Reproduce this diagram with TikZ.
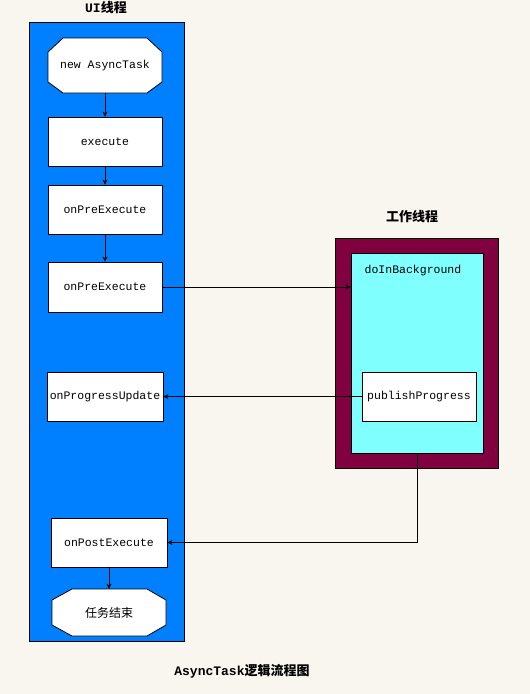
\documentclass[tikz,border=0pt]{standalone}
\usepackage{fontspec}
\setmonofont{Liberation Mono}
\newfontfamily\cjk{Noto Sans CJK SC}
\usetikzlibrary{arrows.meta}
\definecolor{bgc}{HTML}{F9F6EF}
\definecolor{uiblue}{HTML}{0080FF}
\definecolor{wkmaroon}{HTML}{800040}
\definecolor{wkcyan}{HTML}{80FFFF}
\begin{document}
\begin{tikzpicture}[x=1pt,y=-1pt,
  box/.style={draw=black, fill=white, line width=0.8pt, inner sep=0pt,
    font=\ttfamily\fontsize{11.5}{13}\selectfont},
  plain/.style={inner sep=0pt, font=\ttfamily\fontsize{11.5}{13}\selectfont},
  arr/.style={-{Stealth[length=5pt,width=5pt]}, line width=0.8pt},
  ttl/.style={inner sep=0pt, font=\fontsize{13}{15}\selectfont\bfseries}]
\fill[bgc] (0,0) rectangle (530,694);
\useasboundingbox (0,0) rectangle (530,694);
% panels
\draw[fill=uiblue, line width=0.8pt] (29,22) rectangle (184,641);
\draw[fill=wkmaroon, line width=0.8pt] (335,238) rectangle (498,468);
\node[draw=black, fill=wkcyan, line width=0.8pt, minimum width=132pt, minimum height=200pt, inner sep=0pt] (inner) at (417,353) {};
% titles
\node[ttl] (t1) at (106,8) {\ttfamily UI\cjk 线程};
\node[ttl] (t2) at (412,217) {\cjk 工作线程};
\node[ttl] (t3) at (242,671) {\ttfamily AsyncTask\cjk 逻辑流程图};
% octagon 1
\node[plain, minimum width=114pt, minimum height=55pt] (n0) at (105,65.5) {new AsyncTask};
\draw[fill=white, line width=0.8pt]
  (63,38) -- (147,38) -- (162,52) -- (162,82) -- (147,93) -- (63,93) -- (48,82) -- (48,52) -- cycle;
\node[plain] at (n0) {new AsyncTask};
% boxes
\node[box, minimum width=114pt, minimum height=49pt] (ex) at (105,141.5) {execute};
\node[box, minimum width=114pt, minimum height=49pt] (p1) at (105,209.5) {onPreExecute};
\node[box, minimum width=114pt, minimum height=50pt] (p2) at (105,287) {onPreExecute};
\node[box, minimum width=116pt, minimum height=49pt] (opu) at (105,396.5) {onProgressUpdate};
\node[box, minimum width=116pt, minimum height=49pt] (ope) at (109,542.5) {onPostExecute};
\node[box, minimum width=114pt, minimum height=49pt] (pp) at (419,396.5) {publishProgress};
\node[plain] (dib) at (413,271) {doInBackground};
% octagon 2
\node[plain, minimum width=114pt, minimum height=47pt] (end) at (109,612.5) {};
\draw[fill=white, line width=0.8pt]
  (72,589) -- (147,589) -- (166,600) -- (166,625) -- (147,636) -- (72,636) -- (52,625) -- (52,600) -- cycle;
\node[inner sep=0pt, font=\cjk\fontsize{12}{14}\selectfont] at (end) {任务结束};
% connectors
\draw[arr] (n0.south) -- (ex.north);
\draw[arr] (ex.south) -- (p1.north);
\draw[arr] (p1.south) -- (p2.north);
\draw[arr] (p2.east) -- (p2.east -| inner.west);
\draw[arr] (pp.west) -- (pp.west -| opu.east);
\draw[arr] (inner.south) |- (ope.east);
\draw[arr] (ope.south) -- (end.north);
\end{tikzpicture}
\end{document}
